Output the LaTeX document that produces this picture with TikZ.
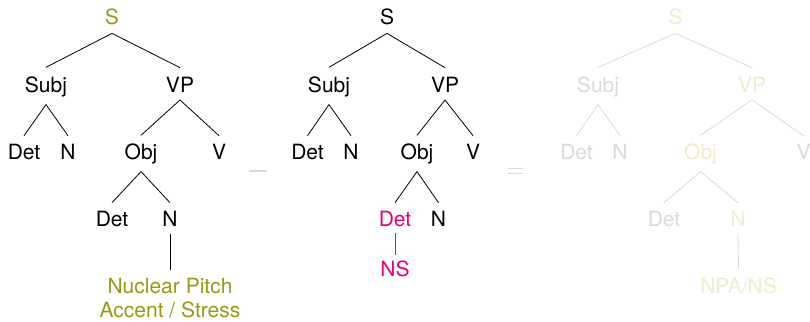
\documentclass[tikz,border=0pt]{standalone}
\usepackage{fontspec}
\setmainfont{TeX Gyre Heros}
\definecolor{accentolive}{RGB}{153,153,20}
\definecolor{accentpink}{RGB}{230,0,126}
\definecolor{fadeyellow}{RGB}{240,236,206}
\definecolor{fadegray}{RGB}{218,218,218}
\begin{document}
\begin{tikzpicture}[x=1pt,y=-1pt,
  lbl/.style={inner sep=0pt,outer sep=0pt,anchor=base,
    font=\fontsize{21}{24}\selectfont},
  branch/.style={line width=0.8pt},
  faint/.style={branch,draw=fadegray},
  opsign/.style={line width=1.3pt,draw=fadegray}]
\useasboundingbox (0,0) rectangle (810,321);

% ---------- tree 1 : nuclear pitch accent ----------
\node[lbl,text=accentolive] (aS)   at (112,25)  {S};
\node[lbl] (aSubj) at (46,92)   {Subj};
\node[lbl] (aVP)   at (180,92)  {VP};
\node[lbl] (aD1)   at (24,159)  {Det};
\node[lbl] (aN1)   at (68,159)  {N};
\node[lbl] (aObj)  at (141,159) {Obj};
\node[lbl] (aV)    at (219,159) {V};
\node[lbl] (aD2)   at (112,226) {Det};
\node[lbl] (aN2)   at (170,226) {N};
% base anchor of a two-line node sits on its last line
\node[lbl,text=accentolive,align=center] (aNPA) at (170,317)
  {Nuclear Pitch\\Accent / Stress};

\draw[branch] ([yshift=-8pt]aS.south)   -- ([yshift=9pt]aSubj.north);
\draw[branch] ([yshift=-8pt]aS.south)   -- ([yshift=9pt]aVP.north);
\draw[branch] ([yshift=-8pt]aSubj.south) -- ([yshift=8pt]aD1.north);
\draw[branch] ([yshift=-8pt]aSubj.south) -- ([yshift=8pt]aN1.north);
\draw[branch] ([yshift=-8pt]aVP.south)  -- ([yshift=8pt]aObj.north);
\draw[branch] ([yshift=-8pt]aVP.south)  -- ([yshift=8pt]aV.north);
\draw[branch] ([yshift=-8pt]aObj.south) -- ([yshift=8pt]aD2.north);
\draw[branch] ([yshift=-8pt]aObj.south) -- ([yshift=8pt]aN2.north);
\draw[branch] ([yshift=-8pt]aN2.south)  -- ([yshift=8pt]aNPA.north);

% minus sign
\coordinate (minusL) at (249,171);
\coordinate (minusR) at (267,171);
\draw[opsign] (minusL) -- (minusR);

% ---------- tree 2 : nuclear stress ----------
\node[lbl] (bS)    at (387,25)  {S};
\node[lbl] (bSubj) at (329,92)  {Subj};
\node[lbl] (bVP)   at (445,92)  {VP};
\node[lbl] (bD1)   at (307.5,159) {Det};
\node[lbl] (bN1)   at (351,159) {N};
\node[lbl] (bObj)  at (417,159) {Obj};
\node[lbl] (bV)    at (473,159) {V};
\node[lbl,text=accentpink] (bD2) at (395,226) {Det};
\node[lbl] (bN2)   at (438.5,226) {N};
\node[lbl,text=accentpink] (bNS) at (395,276) {NS};

\draw[branch] ([yshift=-8pt]bS.south)   -- ([yshift=9pt]bSubj.north);
\draw[branch] ([yshift=-8pt]bS.south)   -- ([yshift=9pt]bVP.north);
\draw[branch] ([yshift=-8pt]bSubj.south) -- ([yshift=8pt]bD1.north);
\draw[branch] ([yshift=-8pt]bSubj.south) -- ([yshift=8pt]bN1.north);
\draw[branch] ([yshift=-8pt]bVP.south)  -- ([yshift=8pt]bObj.north);
\draw[branch] ([yshift=-8pt]bVP.south)  -- ([yshift=8pt]bV.north);
\draw[branch] ([yshift=-8pt]bObj.south) -- ([yshift=8pt]bD2.north);
\draw[branch] ([yshift=-8pt]bObj.south) -- ([yshift=8pt]bN2.north);
\draw[branch,draw=accentpink] ([yshift=-7pt]bD2.south) -- ([yshift=5pt]bNS.north);

% equals sign
\coordinate (eqTL) at (508,168.5);
\coordinate (eqTR) at (523,168.5);
\coordinate (eqBL) at (508,173.5);
\coordinate (eqBR) at (523,173.5);
\draw[opsign] (eqTL) -- (eqTR);
\draw[opsign] (eqBL) -- (eqBR);

% ---------- tree 3 : faded result ----------
\node[lbl,text=fadeyellow] (cS)    at (675.5,25) {S};
\node[lbl,text=fadegray]   (cSubj) at (598,92)   {Subj};
\node[lbl,text=fadeyellow] (cVP)   at (752,92)   {VP};
\node[lbl,text=fadegray]   (cD1)   at (576.5,159) {Det};
\node[lbl,text=fadegray]   (cN1)   at (620,159)  {N};
\node[lbl,text=fadeyellow] (cObj)  at (700.5,159) {Obj};
\node[lbl,text=fadegray]   (cV)    at (803.5,159) {V};
\node[lbl,text=fadegray]   (cD2)   at (664,226)  {Det};
\node[lbl,text=fadeyellow] (cN2)   at (738,226)  {N};
\node[lbl,text=fadeyellow] (cNPA)  at (738.5,293) {NPA/NS};

\draw[faint] ([yshift=-8pt]cS.south)   -- ([yshift=9pt]cSubj.north);
\draw[faint] ([yshift=-8pt]cS.south)   -- ([yshift=9pt]cVP.north);
\draw[faint] ([yshift=-8pt]cSubj.south) -- ([yshift=8pt]cD1.north);
\draw[faint] ([yshift=-8pt]cSubj.south) -- ([yshift=8pt]cN1.north);
\draw[faint] ([yshift=-8pt]cVP.south)  -- ([yshift=8pt]cObj.north);
\draw[faint] ([yshift=-8pt]cVP.south)  -- ([yshift=8pt]cV.north);
\draw[faint] ([yshift=-8pt]cObj.south) -- ([yshift=8pt]cD2.north);
\draw[faint] ([yshift=-8pt]cObj.south) -- ([yshift=8pt]cN2.north);
\draw[faint] ([yshift=-8pt]cN2.south)  -- ([yshift=8pt]cNPA.north);
\end{tikzpicture}
\end{document}
